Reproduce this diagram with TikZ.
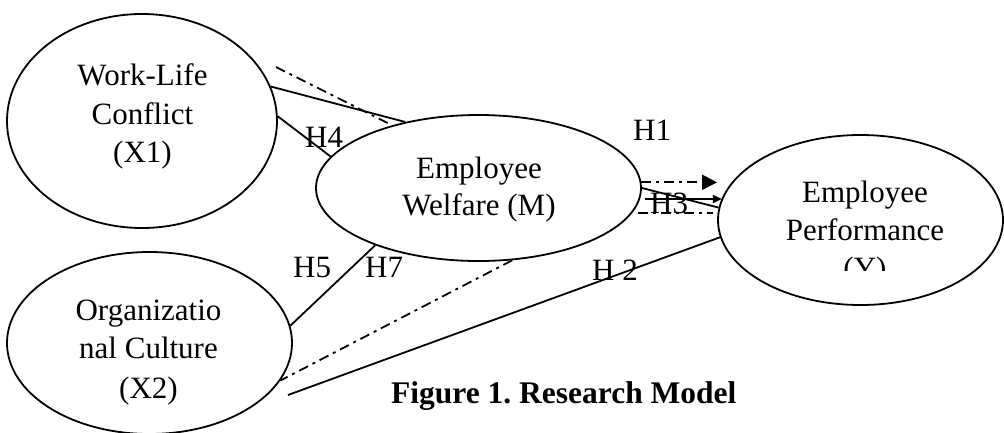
\documentclass[tikz,border=0pt]{standalone}
\usepackage{fontspec}
\setmainfont{Liberation Serif}
\usetikzlibrary{arrows.meta,shapes.geometric}
\begin{document}
\begin{tikzpicture}[x=1pt,y=-1pt,
  oval/.style={draw,ellipse,line width=1.8pt,inner sep=0pt},
  txt/.style={anchor=base,font=\fontsize{31}{38}\selectfont,inner sep=0pt},
  hl/.style={anchor=base west,font=\fontsize{31}{38}\selectfont,inner sep=0pt},
  conn/.style={line width=1.8pt},
  dd/.style={line width=1.8pt,dash pattern=on 10pt off 5pt on 3pt off 5pt}]
\useasboundingbox (0,0) rectangle (1004,432);
% ellipses
\node[oval,minimum width=270pt,minimum height=214pt] (X1) at (142,121) {};
\node[oval,minimum width=325pt,minimum height=146pt] (M) at (478.5,188) {};
\node[oval,minimum width=285pt,minimum height=170pt] (Y) at (860.5,220) {};
\node[oval,minimum width=285pt,minimum height=182pt] (X2) at (149.5,343) {};
% texts
\node[txt] (x1a) at (142.5,85) {Work-Life};
\node[txt] (x1b) at (142.5,124) {Conflict};
\node[txt] (x1c) at (142.5,162) {(X1)};
\node[txt] (ma) at (479,178) {Employee};
\node[txt] (mb) at (479,215) {Welfare (M)};
\node[txt] (ya) at (865,202) {Employee};
\node[txt] (yb) at (865,240) {Performance};
\begin{scope}
\clip (700,250) rectangle (1004,270);
\node[txt] (yc) at (865,278) {(Y)};
\end{scope}
\node[txt] (x2a) at (148.5,320) {Organizatio};
\node[txt] (x2b) at (148.5,358) {nal Culture};
\node[txt] (x2c) at (148.5,398) {(X2)};
% connectors
\coordinate (a1) at (276,67);
\coordinate (h3s) at (645,199);
\coordinate (d1) at (638,213);
\coordinate (d2) at (713,213);
\coordinate (h2s) at (288,395);
\draw[conn] (X1.15) -- (M.138);
\draw[dd] (a1) -- (M.144);
\draw[conn] (X1.2) -- (M.168);
\draw[dd,-{Triangle[length=15pt,width=15pt]}] (M.2) -- (M.2 -| Y.west);
\draw[conn] (M.0) -- (Y.175);
\draw[conn,-{Triangle[length=9pt,width=8pt]}] (h3s) -- (h3s -| Y.171);
\draw[dd] (d1) -- (d2);
\draw[conn] (M.209) -- (X2.7);
\draw[dd] (M.295) -- (X2.344);
\draw[conn] (h2s) -- (Y.187);
% labels
\node[hl] (H1) at (633,140) {H1};
\node[hl] (H4) at (305,147) {H4};
\node[hl] (H5) at (293,277) {H5};
\node[hl] (H7) at (365,277) {H7};
\node[hl] (H2) at (592,280) {H 2};
\node[hl] (H3) at (650,213) {H3};
\node[anchor=base west,inner sep=0pt,font=\fontsize{31.5}{38}\selectfont\bfseries] (cap) at (391,403) {Figure 1.\ Research Model};
\end{tikzpicture}
\end{document}
